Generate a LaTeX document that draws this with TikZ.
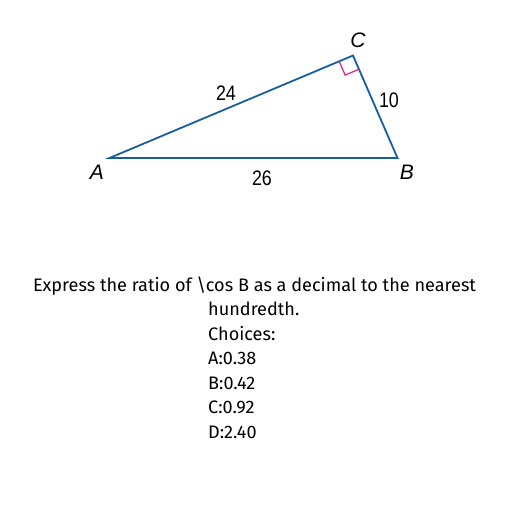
\documentclass[tikz,border=0pt]{standalone}
\usepackage{fontspec}
\usetikzlibrary{calc}
\setmainfont{Fira Sans}[Ligatures=NoCommon]
\newfontfamily\labelfont{Liberation Sans}
\definecolor{triblue}{RGB}{22,94,160}
\definecolor{rightpink}{RGB}{225,30,130}
\begin{document}
\begin{tikzpicture}[x=1pt,y=-1pt,
  side/.style={draw=triblue,line width=1.8pt,line join=miter},
  vlabel/.style={font=\labelfont\itshape\fontsize{21}{21}\selectfont,inner sep=0pt},
  nlabel/.style={font=\labelfont\fontsize{21}{21}\selectfont,inner sep=0pt,xscale=0.85},
  qtext/.style={font=\fontsize{18.1}{24.5}\selectfont,inner sep=0pt,anchor=base west}]
\useasboundingbox[fill=white] (0,0) rectangle (512,512);
\coordinate (A) at (109.5,158);
\coordinate (B) at (397.5,158);
\coordinate (C) at (353,55.5);
\draw[side] (A) -- (B) -- (C) -- cycle;
\coordinate (m1) at ($(C)!15pt!(A)$);
\coordinate (m3) at ($(C)!15pt!(B)$);
\draw[rightpink,line width=1.2pt] (m1) -- ($(m1)+(m3)-(C)$) -- (m3);
\node[vlabel] (lC) at (358,40) {C};
\node[vlabel] (lA) at (97,172) {A};
\node[vlabel] (lB) at (407,172) {B};
\node[nlabel] (l24) at (226,93) {24};
\node[nlabel] (l10) at (389,100) {10};
\node[nlabel] (l26) at (262,178) {26};
\node[font=\fontsize{18.1}{24.5}\selectfont,inner sep=0pt,anchor=base] (q1) at (254.5,291) {Express the ratio of \textbackslash cos B as a decimal to the nearest};
\node[qtext] (q2) at (208,315.5) {hundredth.};
\node[qtext] (q3) at (208,340) {Choices:};
\node[qtext] (q4) at (208,364.5) {A:0.38};
\node[qtext] (q5) at (208,389) {B:0.42};
\node[qtext] (q6) at (208,413.5) {C:0.92};
\node[qtext] (q7) at (208,438) {D:2.40};
\end{tikzpicture}
\end{document}
